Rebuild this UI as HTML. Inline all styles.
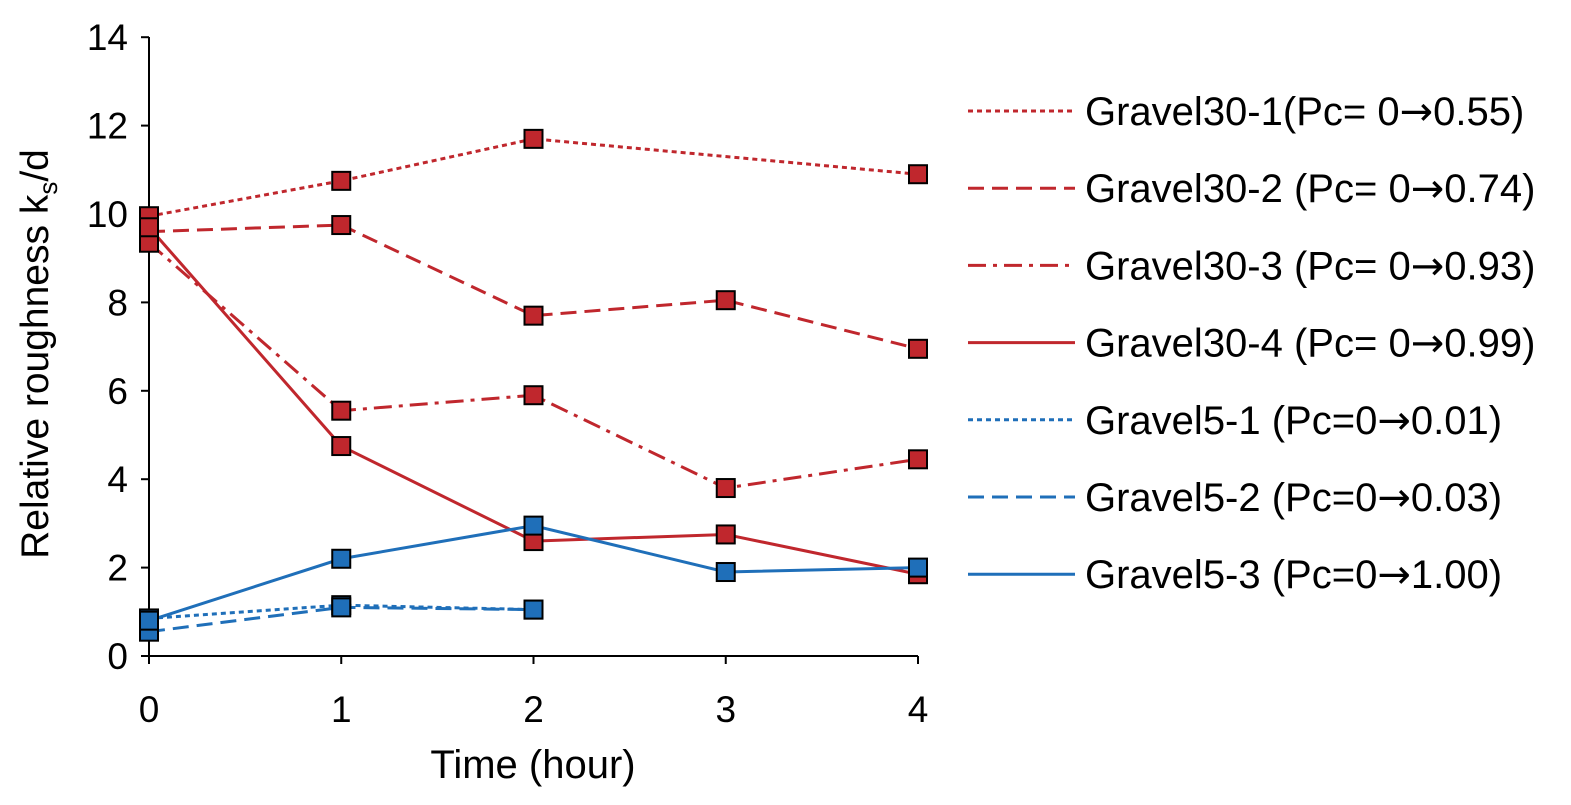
<!DOCTYPE html>
<html><head><meta charset="utf-8"><style>
body{margin:0;background:#fff;}
svg text{font-family:"Liberation Sans",Arial,sans-serif;fill:#000;}
.ar{font-family:"DejaVu Sans",sans-serif;}
</style></head><body>
<svg id="chart" width="1571" height="800" xmlns="http://www.w3.org/2000/svg"></svg>
<script>
const xTicks=[0,1,2,3,4];
const yTicks=[0,2,4,6,8,10,12,14];
const seriesPre=["Gravel30-1(Pc= 0","Gravel30-2 (Pc= 0","Gravel30-3 (Pc= 0","Gravel30-4 (Pc= 0","Gravel5-1 (Pc=0","Gravel5-2 (Pc=0","Gravel5-3 (Pc=0"];
const seriesPost=["0.55)","0.74)","0.93)","0.99)","0.01)","0.03)","1.00)"];
const g30_1=[[0,9.95],[1,10.75],[2,11.7],[4,10.9]];
const g30_2=[[0,9.6],[1,9.75],[2,7.7],[3,8.05],[4,6.95]];
const g30_3=[[0,9.35],[1,5.55],[2,5.9],[3,3.8],[4,4.45]];
const g30_4=[[0,9.7],[1,4.75],[2,2.6],[3,2.75],[4,1.85]];
const g5_1=[[0,0.85],[1,1.15],[2,1.05]];
const g5_2=[[0,0.55],[1,1.1],[2,1.05]];
const g5_3=[[0,0.8],[1,2.2],[2,2.95],[3,1.9],[4,2.0]];
const RED="#c0272d",BLUE="#1f6fb9";
const styles=[[RED,"5,4"],[RED,"16,8"],[RED,"18,7,4,7"],[RED,""],[BLUE,"5,4"],[BLUE,"16,8"],[BLUE,""]];
const allData=[g30_1,g30_2,g30_3,g30_4,g5_1,g5_2,g5_3];
const X=v=>149+v*192.25, Y=v=>656-v*44.2;
const svg=document.getElementById('chart');
function el(t,a,txt){const e=document.createElementNS("http://www.w3.org/2000/svg",t);for(const k in a)e.setAttribute(k,a[k]);if(txt!==undefined)e.textContent=txt;svg.appendChild(e);return e;}
let e;
e=el('line',{x1:149,y1:37,x2:149,y2:656,stroke:'#000','stroke-width':2});


e=el('line',{x1:149,y1:656,x2:918,y2:656,stroke:'#000','stroke-width':2});


yTicks.forEach(t=>{
 el('line',{x1:141,y1:Y(t),x2:149,y2:Y(t),stroke:'#000','stroke-width':2});
 e=el('text',{x:128,y:Y(t)+13,'font-size':37,'text-anchor':'end'},t);
 
 
});
xTicks.forEach(t=>{
 el('line',{x1:X(t),y1:656,x2:X(t),y2:664,stroke:'#000','stroke-width':2});
 e=el('text',{x:X(t),y:722,'font-size':37,'text-anchor':'middle'},t);
 
 
});
e=el('text',{x:533,y:778,'font-size':40,'text-anchor':'middle'},'Time (hour)');


e=el('text',{transform:'translate(48,354) rotate(-90)','font-size':39,'text-anchor':'middle'});


e.innerHTML='Relative roughness k<tspan font-size="26" dy="9">s</tspan><tspan dy="-9">/d</tspan>';
allData.forEach((d,i)=>{
 const [c,da]=styles[i];
 e=el('polyline',{points:d.map(p=>X(p[0])+','+Y(p[1])).join(' '),fill:'none',stroke:c,'stroke-width':3,'stroke-dasharray':da});
 
 
});
allData.forEach((d,i)=>{
 d.forEach(p=>{
  e=el('rect',{x:X(p[0])-9,y:Y(p[1])-9,width:18,height:18,fill:styles[i][0],stroke:'#000','stroke-width':2});
  
  
 });
});
seriesPre.forEach((n,i)=>{
 const y=111+i*77.2;
 const [c,da]=styles[i];
 e=el('line',{x1:968,y1:y,x2:1075,y2:y,stroke:c,'stroke-width':3,'stroke-dasharray':da});
 
 
 e=el('text',{x:1085,y:y+14,'font-size':40});
 
 
 e.innerHTML=n+'<tspan class="ar">→</tspan>'+seriesPost[i];
});
</script>
</body></html>
